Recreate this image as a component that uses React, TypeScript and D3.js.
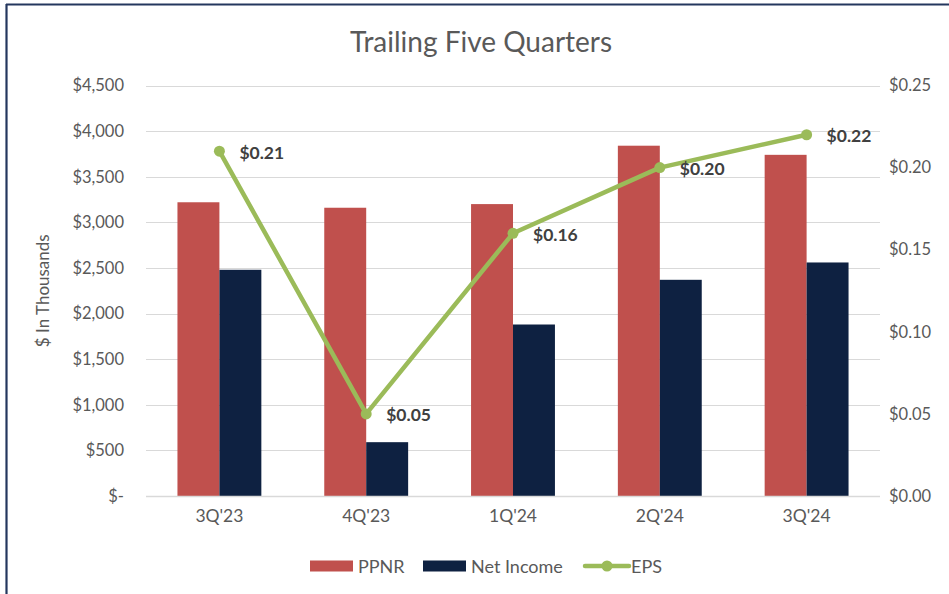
import React, { useEffect, useRef } from "react";
import * as d3 from "d3";

const quarters = ["3Q'23", "4Q'23", "1Q'24", "2Q'24", "3Q'24"];
const ppnr = [3220, 3160, 3200, 3840, 3740];
const netIncome = [2480, 590, 1880, 2370, 2560];
const eps = [0.21, 0.05, 0.16, 0.2, 0.22];
const leftTicks = [0, 500, 1000, 1500, 2000, 2500, 3000, 3500, 4000, 4500];
const rightTicks = [0, 0.05, 0.1, 0.15, 0.2, 0.25];

const W = 949;
const H = 594;
const FONT = "Lato, 'Open Sans', sans-serif";

export default function App() {
  const ref = useRef<SVGSVGElement>(null);

  useEffect(() => {
    const svg = d3.select(ref.current);
    svg.selectAll("*").remove();

    const left = 146, right = 880, top = 85.5, bottom = 496;

    // frame (top + left edges only)
    svg.append("line").attr("x1", 6).attr("x2", W).attr("y1", 4.5).attr("y2", 4.5)
      .attr("stroke", "#24375e").attr("stroke-width", 2.2);
    svg.append("line").attr("x1", 6.5).attr("x2", 6.5).attr("y1", 4).attr("y2", H)
      .attr("stroke", "#24375e").attr("stroke-width", 2.2);

    svg.append("text").attr("x", 481).attr("y", 52).attr("text-anchor", "middle")
      .attr("font-family", FONT).attr("font-size", 28).attr("fill", "#595959")
      .text("Trailing Five Quarters");

    const x = d3.scaleBand<string>().domain(quarters).range([left, right]);
    const y = d3.scaleLinear().domain([0, 4500]).range([bottom, top]);
    const y2 = d3.scaleLinear().domain([0, 0.25]).range([bottom, top]);
    const barW = x.bandwidth() / 3.5;

    // gridlines
    svg.append("g").selectAll("line").data(leftTicks.slice(1)).join("line")
      .attr("x1", left).attr("x2", right)
      .attr("y1", (d) => Math.round(y(d)) + 0.5).attr("y2", (d) => Math.round(y(d)) + 0.5)
      .attr("stroke", "#d9d9d9").attr("stroke-width", 1.2);

    // left axis
    const ax = svg.append("g").attr("transform", `translate(${left},0)`)
      .call(d3.axisLeft(y).tickValues(leftTicks).tickSize(0).tickPadding(22)
        .tickFormat((d) => (+d === 0 ? "$-" : d3.format("$,")(+d))));
    ax.select(".domain").remove();
    ax.selectAll("text").attr("font-family", FONT).attr("font-size", 16.5).attr("fill", "#595959");

    // right axis
    const ax2 = svg.append("g").attr("transform", `translate(${right},0)`)
      .call(d3.axisRight(y2).tickValues(rightTicks).tickSize(0).tickPadding(9)
        .tickFormat((d) => d3.format("$.2f")(+d)));
    ax2.select(".domain").remove();
    ax2.selectAll("text").attr("font-family", FONT).attr("font-size", 16.5).attr("fill", "#595959");

    svg.append("text").attr("transform", `translate(49,${(top + bottom) / 2}) rotate(-90)`)
      .attr("text-anchor", "middle").attr("font-family", FONT).attr("font-size", 17)
      .attr("fill", "#595959").text("$ In Thousands");

    // bars
    svg.append("g").selectAll("rect").data(ppnr).join("rect")
      .attr("x", (_, i) => x(quarters[i])! + x.bandwidth() / 2 - barW)
      .attr("y", (d) => y(d)).attr("width", barW).attr("height", (d) => bottom - y(d))
      .attr("fill", "#c0504d");
    svg.append("g").selectAll("rect").data(netIncome).join("rect")
      .attr("x", (_, i) => x(quarters[i])! + x.bandwidth() / 2)
      .attr("y", (d) => y(d)).attr("width", barW).attr("height", (d) => bottom - y(d))
      .attr("fill", "#0e2141");

    // baseline
    svg.append("line").attr("x1", left).attr("x2", right).attr("y1", bottom + 0.5).attr("y2", bottom + 0.5)
      .attr("stroke", "#d9d9d9").attr("stroke-width", 1.5);

    // x labels
    const xa = svg.append("g").attr("transform", `translate(0,${bottom})`)
      .call(d3.axisBottom(x).tickSize(0).tickPadding(14));
    xa.select(".domain").remove();
    xa.selectAll("text").attr("font-family", FONT).attr("font-size", 17.5).attr("fill", "#595959");

    // EPS line
    const cx = (i: number) => x(quarters[i])! + x.bandwidth() / 2;
    const line = d3.line<number>().x((_, i) => cx(i)).y((d) => y2(d));
    svg.append("path").datum(eps).attr("d", line).attr("fill", "none")
      .attr("stroke", "#9bbb59").attr("stroke-width", 4.5).attr("stroke-linejoin", "round");
    svg.append("g").selectAll("circle").data(eps).join("circle")
      .attr("cx", (_, i) => cx(i)).attr("cy", (d) => y2(d)).attr("r", 5.5).attr("fill", "#9bbb59");
    svg.append("g").selectAll("text").data(eps).join("text")
      .attr("x", (_, i) => cx(i) + 20).attr("y", (d) => y2(d) + 7.5)
      .attr("font-family", FONT).attr("font-size", 17.5).attr("font-weight", "bold").attr("fill", "#404040")
      .text((d) => d3.format("$.2f")(d));

    // legend
    const lg = svg.append("g").attr("transform", "translate(0,566)");
    lg.append("rect").attr("x", 310).attr("y", -5.5).attr("width", 43).attr("height", 11).attr("fill", "#c0504d");
    lg.append("text").attr("x", 358).attr("y", 6.5).text("PPNR");
    lg.append("rect").attr("x", 423).attr("y", -5.5).attr("width", 43).attr("height", 11).attr("fill", "#0e2141");
    lg.append("text").attr("x", 471).attr("y", 6.5).text("Net Income");
    lg.append("line").attr("x1", 585).attr("x2", 629).attr("y1", 0).attr("y2", 0)
      .attr("stroke", "#9bbb59").attr("stroke-width", 4.5).attr("stroke-linecap", "round");
    lg.append("circle").attr("cx", 607).attr("cy", 0).attr("r", 5.5).attr("fill", "#9bbb59");
    lg.append("text").attr("x", 631).attr("y", 6.5).text("EPS");
    lg.selectAll("text").attr("font-family", FONT).attr("font-size", 18).attr("fill", "#595959");
  }, []);

  return (
    <svg ref={ref} width={W} height={H}
      style={{ position: "absolute", left: 0, top: 0, background: "#fff" }} />
  );
}
